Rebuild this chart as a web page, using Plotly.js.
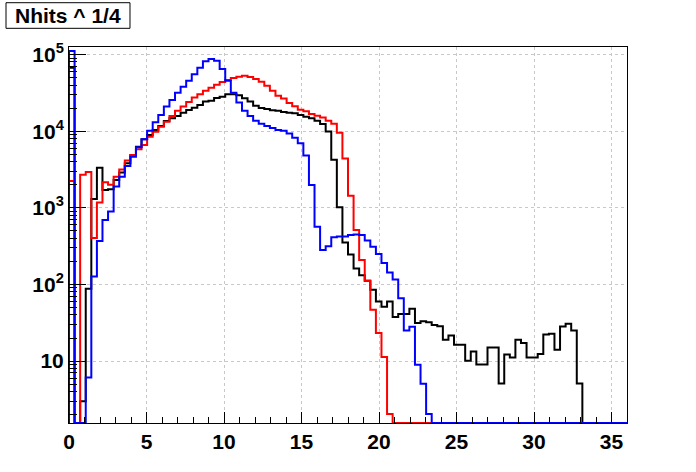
<!DOCTYPE html>
<html><head><meta charset="utf-8">
<script src="https://cdn.plot.ly/plotly-3.0.1.min.js"></script>
<style>html,body{margin:0;padding:0;background:#fff}#chart{width:696px;height:472px}</style>
</head><body><div id="chart"></div>
<script>
// Histogram definition: 100 bins from 0 to 36
const xMin = 0, xMax = 36;
const titleText = 'Nhits ^ 1/4';
const xTickVals = [0, 5, 10, 15, 20, 25, 30, 35];
const yTickVals = [10, 100, 1000, 10000, 100000];
const yTickText = ['10', '10<sup>2</sup>', '10<sup>3</sup>', '10<sup>4</sup>', '10<sup>5</sup>'];

const blackCounts = [
 67000, 0, 3, 88, 1306, 3340, 1710, 1750, 2300, 2880,
 3800, 4890, 6280, 7830, 8920, 10370, 11700, 13600, 14700, 15800,
 17400, 18900, 20200, 22000, 24300, 25000, 27100, 28200, 30300, 30300,
 29400, 26900, 24300, 21500, 20000, 19400, 18700, 18400, 17800, 17400,
 17100, 16300, 15400, 14700, 13700, 12400, 9860, 4220, 1020, 352,
 245, 162, 132, 112, 85, 60, 51, 60, 37.5, 41,
 41, 48, 31.3, 33, 32, 29.5, 28.5, 19, 21.5, 16.3,
 16.3, 10.1, 13.3, 9, 9, 15, 15, 5.1, 12.2, 11.1,
 19, 17.2, 11.1, 11.1, 12.4, 22.2, 22.7, 14, 28.3, 30.6,
 25.1, 5.1, 0, 0, 0, 0, 0, 0, 0, 0
];
const redCounts = [
 2240, 0, 2690, 2940, 404, 1170, 2150, 2000, 2550, 3150,
 4150, 4890, 5810, 6610, 8480, 9840, 11450, 13300, 15800, 18500,
 20900, 24000, 27400, 30300, 33700, 36900, 40400, 43800, 46500, 49400,
 51400, 53000, 50900, 48000, 44200, 39200, 33700, 29000, 26600, 23300,
 21100, 19000, 18200, 16700, 15900, 15100, 13700, 12500, 9500, 4400,
 1440, 515, 209, 112, 46.6, 23.2, 11.3, 2.04, 0, 0,
 0, 0, 0, 0, 0, 0, 0, 0, 0, 0,
 0, 0, 0, 0, 0, 0, 0, 0, 0, 0,
 0, 0, 0, 0, 0, 0, 0, 0, 0, 0,
 0, 0, 0, 0, 0, 0, 0, 0, 0, 0
];
const blueCounts = [
 111000, 0, 0, 6.1, 127, 370, 695, 892, 1890, 2550,
 3520, 4650, 6170, 7830, 10150, 13060, 16260, 20900, 25500, 31800,
 38000, 45500, 55200, 67300, 81500, 87300, 83000, 64700, 45500, 31800,
 23600, 18500, 15800, 13700, 12500, 11700, 11000, 10370, 10150, 9300,
 8200, 6950, 4800, 1990, 565, 282, 315, 414, 422, 422,
 440, 448, 440, 373, 310, 250, 190, 143, 116, 66,
 25, 28, 8.95, 5.06, 2.04, 0, 0, 0, 0, 0,
 0, 0, 0, 0, 0, 0, 0, 0, 0, 0,
 0, 0, 0, 0, 0, 0, 0, 0, 0, 0,
 0, 0, 0, 0, 0, 0, 0, 0, 0, 0
];

const yLogMin = 0.192, yLogMax = 5.098;
const floorVal = Math.pow(10, yLogMin);

function histTrace(counts, color) {
  const bw = (xMax - xMin) / counts.length;
  const xs = [xMin], ys = [floorVal];
  counts.forEach((c, i) => { xs.push(xMin + i * bw); ys.push(c > 0 ? c : floorVal); });
  xs.push(xMax); ys.push(floorVal);
  return { x: xs, y: ys, type: 'scatter', mode: 'lines',
    line: { shape: 'hv', color: color, width: 2 }, hoverinfo: 'skip' };
}

const minorY = [];
for (let d = 0; d <= 5; d++) for (let k = 2; k <= 9; k++) {
  const v = k * Math.pow(10, d);
  if (Math.log10(v) > yLogMin && Math.log10(v) < yLogMax) minorY.push(v);
}

const tickFont = { family: 'Liberation Sans Narrow, Liberation Sans, Arial, sans-serif', size: 21, weight: 'bold', color: '#000' };

const data = [histTrace(blackCounts, '#000000'), histTrace(redCounts, '#ff0000'), histTrace(blueCounts, '#0000ff')];

const layout = {
  width: 696, height: 472,
  margin: { l: 69, r: 69, t: 47, b: 49, pad: 0 },
  paper_bgcolor: '#fff', plot_bgcolor: '#fff',
  showlegend: false,
  xaxis: {
    range: [xMin, xMax], tickmode: 'array', tickvals: xTickVals,
    ticks: 'inside', ticklen: 11, tickwidth: 1, tickcolor: '#000',
    showline: true, linecolor: '#000', linewidth: 1, mirror: true,
    showgrid: true, gridcolor: '#c8c8c8', griddash: 'dot', gridwidth: 1,
    zeroline: false, tickfont: tickFont,
    minor: { dtick: 1, tick0: 0, ticks: 'inside', ticklen: 6, tickcolor: '#000', tickwidth: 1, showgrid: false }
  },
  yaxis: {
    type: 'log', range: [yLogMin, yLogMax], tickmode: 'array',
    tickvals: yTickVals, ticktext: yTickText,
    ticks: 'inside', ticklen: 17, tickwidth: 1, tickcolor: '#000',
    showline: true, linecolor: '#000', linewidth: 1, mirror: true,
    showgrid: true, gridcolor: '#c8c8c8', griddash: 'dot', gridwidth: 1,
    zeroline: false, tickfont: tickFont,
    minor: { tickmode: 'array', tickvals: minorY, ticks: 'inside', ticklen: 8, tickcolor: '#000', tickwidth: 1, showgrid: false }
  },
  shapes: [{
    type: 'rect', xref: 'paper', yref: 'paper',
    x0: -0.1129, x1: 0.1093, y0: 1.0497, y1: 1.1178,
    line: { color: '#000', width: 1 }, fillcolor: '#fff', layer: 'above'
  }],
  annotations: [{
    text: titleText, xref: 'paper', yref: 'paper',
    x: -0.0018, y: 1.0838, xanchor: 'center', yanchor: 'middle', showarrow: false,
    font: { family: 'Liberation Sans, Arial, sans-serif', size: 21, weight: 'bold', color: '#000' }
  }]
};

Plotly.newPlot('chart', data, layout, { staticPlot: true, displayModeBar: false });
</script></body></html>
